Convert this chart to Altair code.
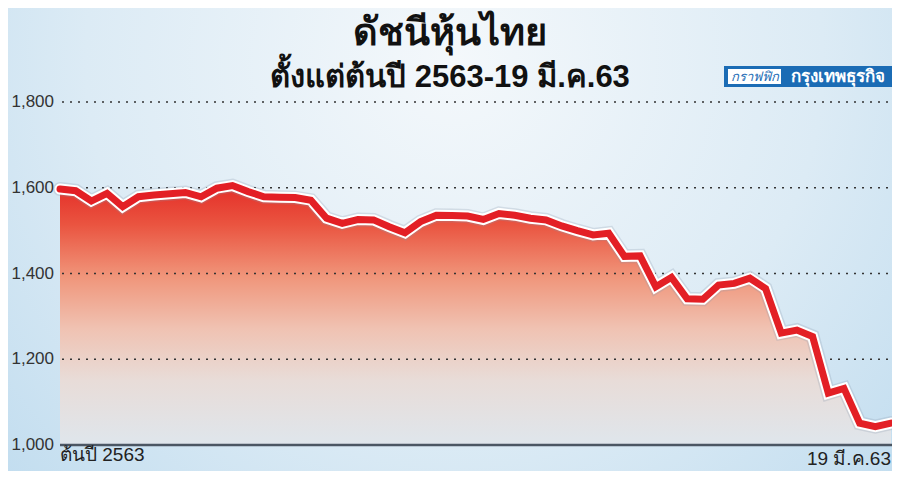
import altair as alt
import pandas as pd

# ---------------- data ----------------
day = list(range(54))
set_index = [1597, 1593, 1569, 1587, 1556, 1579, 1583, 1586, 1589, 1579,
             1599, 1605, 1591, 1579, 1578, 1577, 1571, 1529, 1517, 1526,
             1525, 1509, 1495, 1521, 1536, 1535, 1534, 1526, 1540, 1536,
             1529, 1525, 1511, 1500, 1490, 1494, 1440, 1441, 1369, 1391,
             1341, 1340, 1373, 1377, 1389, 1365, 1261, 1268, 1253, 1121,
             1132, 1051, 1043, 1051]
y_ticks = [1000, 1200, 1400, 1600, 1800]
grid_vals = [1200, 1400, 1600, 1800]
x_label_left = "ต้นปี 2563"
x_label_right = "19 มี.ค.63"
title_text = "ดัชนีหุ้นไทย"
subtitle_text = "ตั้งแต่ต้นปี 2563-19 มี.ค.63"
logo_left = "กราฟฟิก"
logo_right = "กรุงเทพธุรกิจ"

W, H = 831, 343
df = pd.DataFrame({"day": day, "v": set_index})
one = pd.DataFrame({"k": [0]})

xs = alt.Scale(domain=[0, 53], nice=False, zero=False)
ys = alt.Scale(domain=[1000, 1800], nice=False, zero=False)
X = alt.X("day:Q", scale=xs, axis=None)
FONT = "Liberation Sans"

# background radial gradient
bg = alt.Chart(one).mark_rect(
    fill={"gradient": "radial", "x1": 0.5, "y1": 0.3, "r1": 0.0,
          "x2": 0.5, "y2": 0.3, "r2": 0.75,
          "stops": [{"offset": 0, "color": "#f4f8fb"},
                    {"offset": 0.55, "color": "#dcebf5"},
                    {"offset": 1, "color": "#bcdaee"}]},
).encode(x=alt.value(-52), x2=alt.value(W + 10), y=alt.value(-94), y2=alt.value(H + 26))

area = alt.Chart(df).mark_area(
    fill={"gradient": "linear", "x1": 0, "y1": 0, "x2": 0, "y2": 1,
          "stops": [{"offset": 0, "color": "#e42e28"},
                    {"offset": 0.15, "color": "#ea5440"},
                    {"offset": 0.35, "color": "#f0957a"},
                    {"offset": 0.55, "color": "#f0c2b2"},
                    {"offset": 0.75, "color": "#e8dcd8"},
                    {"offset": 1, "color": "#dfe6ec"}]},
).encode(
    x=X,
    y=alt.Y("v:Q", scale=ys, axis=None),
    y2=alt.datum(1000),
)

grid = alt.Chart(pd.DataFrame({"g": grid_vals})).mark_rule(
    color="#333333", strokeWidth=1.5, strokeDash=[2, 6]
).encode(y=alt.Y("g:Q", scale=ys, axis=None), x=alt.value(2), x2=alt.value(W + 2))

ylabels = alt.Chart(pd.DataFrame({"g": y_ticks})).transform_calculate(
    lab="format(datum.g, ',')"
).mark_text(align="right", baseline="middle", fontSize=17, font=FONT, color="#333333").encode(
    y=alt.Y("g:Q", scale=ys, axis=None), x=alt.value(-6), text="lab:N")

shadow = alt.Chart(df).mark_line(color="#8899aa", opacity=0.25, strokeWidth=14,
                                 strokeJoin="miter", strokeCap="round").encode(
    x=X, y=alt.Y("v:Q", scale=ys, axis=None))
white = alt.Chart(df).mark_line(color="#ffffff", strokeWidth=11,
                                strokeJoin="miter", strokeCap="round").encode(
    x=X, y=alt.Y("v:Q", scale=ys, axis=None))
red = alt.Chart(df).mark_line(color="#e31f25", strokeWidth=7,
                              strokeJoin="miter", strokeCap="round").encode(
    x=X, y=alt.Y("v:Q", scale=ys, axis=None))

base = alt.Chart(one).mark_rule(color="#4b5663", strokeWidth=2.5).encode(
    y=alt.datum(1000), x=alt.value(0), x2=alt.value(W + 2))

xl = alt.Chart(pd.DataFrame({"day": [0], "t": [x_label_left]})).mark_text(
    align="left", baseline="alphabetic", fontSize=19, font=FONT, color="#222222"
).encode(x=X, y=alt.value(H + 16), text="t:N")
xr = alt.Chart(pd.DataFrame({"day": [53], "t": [x_label_right]})).mark_text(
    align="right", baseline="alphabetic", fontSize=19, font=FONT, color="#222222"
).encode(x=X, y=alt.value(H + 20), text="t:N")

title = alt.Chart(pd.DataFrame({"t": [title_text]})).mark_text(
    align="center", baseline="alphabetic", fontSize=38, fontWeight=900, color="#111111"
).encode(x=alt.value(390), y=alt.value(-57), text="t:N")
subtitle = alt.Chart(pd.DataFrame({"t": [subtitle_text]})).mark_text(
    align="center", baseline="alphabetic", fontSize=31, fontWeight=900, color="#111111"
).encode(x=alt.value(390), y=alt.value(-15), text="t:N")

logo_box = alt.Chart(one).mark_rect(fill="#1b6cb5").encode(
    x=alt.value(664), x2=alt.value(833), y=alt.value(-36), y2=alt.value(-15))
logo_white = alt.Chart(one).mark_rect(fill="#ffffff").encode(
    x=alt.value(668), x2=alt.value(721), y=alt.value(-33), y2=alt.value(-18))
logo_t1 = alt.Chart(pd.DataFrame({"t": [logo_left]})).mark_text(
    align="center", baseline="middle", fontSize=13, fontStyle="italic", color="#1b6cb5"
).encode(x=alt.value(694.5), y=alt.value(-25.5), text="t:N")
logo_t2 = alt.Chart(pd.DataFrame({"t": [logo_right]})).mark_text(
    align="center", baseline="middle", fontSize=17, fontWeight="bold", color="#ffffff"
).encode(x=alt.value(777.5), y=alt.value(-25.5), text="t:N")

chart = alt.layer(
    bg, area, grid, ylabels, shadow, white, red, base, xl, xr, title, subtitle,
    logo_box, logo_white, logo_t1, logo_t2
).properties(
    width=W, height=H,
    autosize=alt.AutoSizeParams(type="none"),
    padding={"left": 52, "top": 94, "right": 1, "bottom": 26},
).configure_view(stroke=None).configure(background="#d5e8f4")

chart.save("out.html", embed_options={"renderer": "svg", "actions": False})
